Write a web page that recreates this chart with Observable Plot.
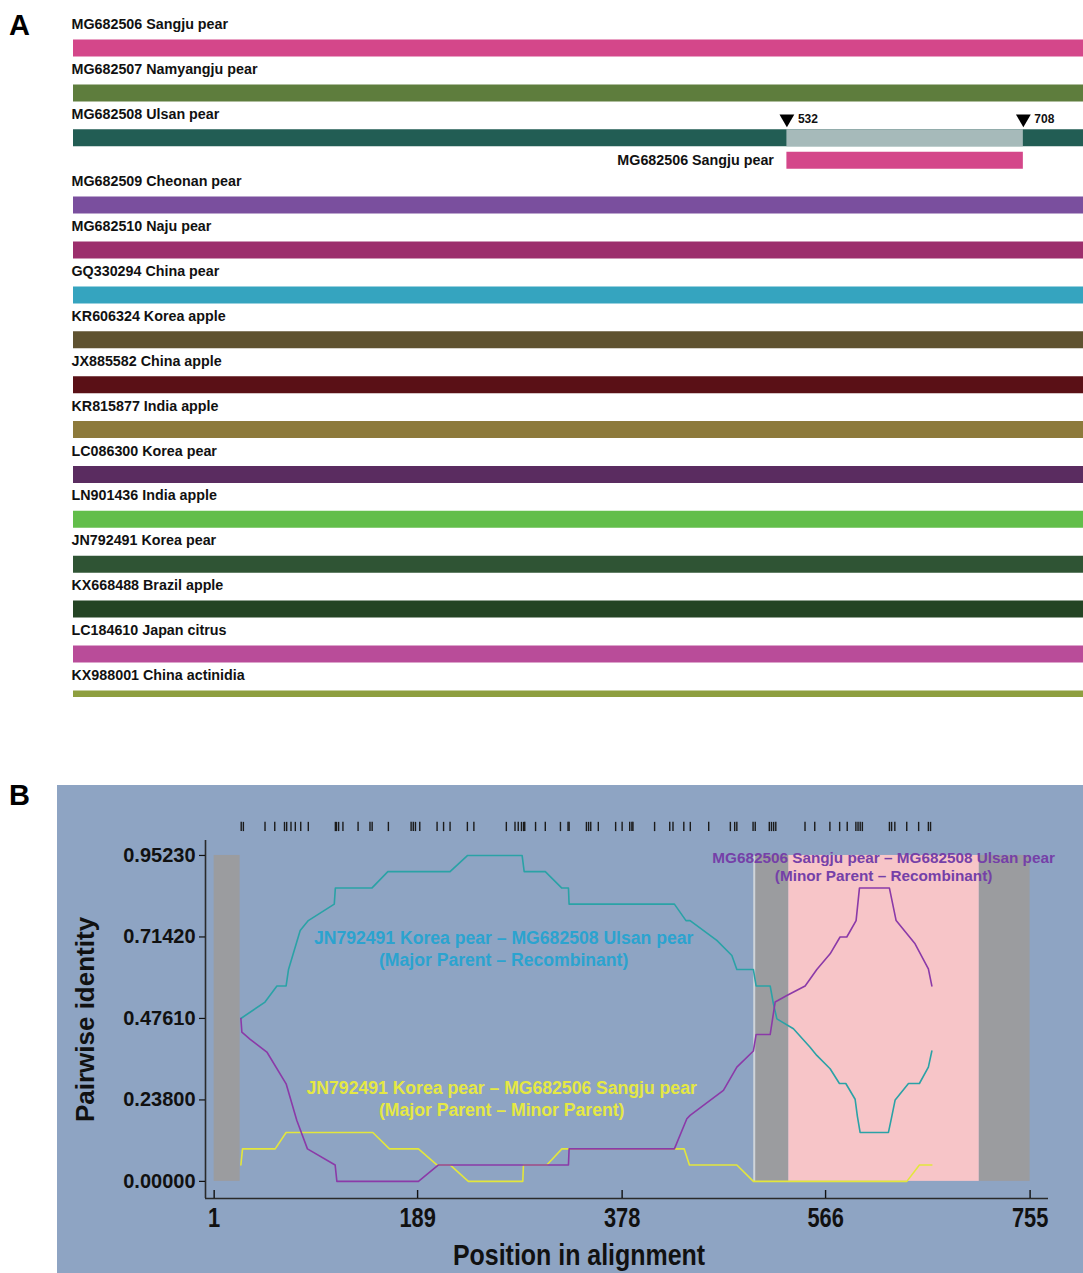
<!DOCTYPE html>
<html><head><meta charset="utf-8">
<script src="https://cdn.jsdelivr.net/npm/d3@7"></script>
<script src="https://cdn.jsdelivr.net/npm/@observablehq/plot@0.6"></script>
<style>
body{margin:0;background:#fff;}
#page{position:relative;width:1083px;height:1273px;overflow:hidden;font-family:"Liberation Sans",Arial,sans-serif;}
.letter{position:absolute;z-index:5;font-weight:bold;font-size:29px;color:#000;line-height:1;}
#a{position:absolute;left:0;top:0;}
#b{position:absolute;left:57px;top:785px;}
</style></head>
<body><div id="page">
<div id="a"></div><div id="b"></div>
<div class="letter" style="left:9px;top:11px">A</div>
<div class="letter" style="left:9px;top:781px">B</div>
</div>
<script>
// ---------- Panel A data ----------
const isolates = [
  "MG682506 Sangju pear","MG682507 Namyangju pear","MG682508 Ulsan pear","MG682509 Cheonan pear",
  "MG682510 Naju pear","GQ330294 China pear","KR606324 Korea apple","JX885582 China apple",
  "KR815877 India apple","LC086300 Korea pear","LN901436 India apple","JN792491 Korea pear",
  "KX668488 Brazil apple","LC184610 Japan citrus","KX988001 China actinidia"
];
const isolateColors = [
  "#d4478a","#5e7d3d","#225d54","#7a4f9e","#9c2e6c","#35a4bf","#5f5230","#5a1016",
  "#8d7a3b","#5a2c60","#62be4a","#2f5434","#244424","#b94c99","#8e9f3f"
];
const genomeSpan = [1, 755];
const recombinant = "MG682508 Ulsan pear";
const minorParent = "MG682506 Sangju pear";
const breakpoints = [532, 708];
const recombColor = "#a6baba";

// ---------- Panel B data ----------
const xTicks = [1, 189, 378, 566, 755];
const yTicks = [0, 0.2380, 0.4761, 0.7142, 0.9523];
const informativeSites = [26,28,48,57,66,68,72,76,81,88,113,114,116,120,134,145,147,162,183,185,187,191,
  207,213,219,235,241,271,279,282,285,287,288,298,307,321,328,329,345,347,349,356,372,378,385,387,388,
  408,422,425,435,441,458,478,482,484,499,501,514,516,518,520,547,556,570,579,586,594,596,598,600,
  625,627,630,641,652,661,663];
const unanalysedRegions = [[1,25],[501,532],[708,755]];
const recombRegion = [[532,708]];
// [position, pairwise identity]
const majorVsRecomb = [[25.7,0.476],[48,0.524],[59,0.571],[67.5,0.571],[69.7,0.619],[80.5,0.733],[88,0.762],
  [112,0.810],[113,0.857],[146.7,0.857],[161.5,0.905],[219,0.905],[235,0.952],[285.6,0.952],[287.5,0.905],
  [307,0.905],[322.3,0.857],[328.4,0.857],[329,0.810],[426.3,0.810],[437,0.762],[440.8,0.762],[465.5,0.704],
  [479.4,0.660],[484,0.619],[499.3,0.619],[501.8,0.571],[514.8,0.571],[517.8,0.519],[521,0.475],[536.3,0.446],
  [551.7,0.392],[557.9,0.368],[570.2,0.329],[578.8,0.286],[584.7,0.286],[593.3,0.240],[595.4,0.190],
  [597.9,0.143],[624.1,0.143],[627.2,0.190],[630.3,0.238],[642.6,0.286],[652.7,0.286],[661,0.334],[664.2,0.381]];
const minorVsRecomb = [[25.7,0.476],[26.6,0.436],[34.3,0.415],[49.7,0.378],[67.5,0.285],[77.4,0.178],[87.2,0.095],
  [112.8,0.048],[114.4,0],[189.8,0],[208.3,0.048],[328.4,0.048],[329,0.095],[426.3,0.095],[437.8,0.183],
  [440.8,0.193],[471.6,0.266],[484,0.334],[499.3,0.381],[501.8,0.429],[514.8,0.429],[519.4,0.524],[530.2,0.543],
  [547.1,0.571],[557.9,0.619],[570.2,0.665],[579.4,0.714],[585.6,0.714],[594.2,0.762],[597.3,0.857],[625,0.857],
  [631.2,0.762],[648.7,0.694],[661,0.621],[664.2,0.571]];
const majorVsMinor = [[25.7,0.048],[27.2,0.095],[57.4,0.095],[67.5,0.143],[147.6,0.143],[163,0.095],[189.8,0.095],
  [206.8,0.048],[219,0.048],[235.9,0],[286.2,0],[286.8,0.048],[308.4,0.048],[322.3,0.095],[426.9,0.095],
  [435.3,0.095],[440.2,0.048],[484,0.048],[499.3,0],[641.1,0],[652.7,0.048],[664.2,0.048]];
const notes = [
  {text:"JN792491 Korea pear – MG682508 Ulsan pear\n(Major Parent – Recombinant)", x:268.5, y:0.681, fill:"#2ba3cf", size:17.6, lh:1.25},
  {text:"JN792491 Korea pear – MG682506 Sangju pear\n(Major Parent – Minor Parent)", x:266.7, y:0.245, fill:"#e5e843", size:17.6, lh:1.25},
  {text:"MG682506 Sangju pear – MG682508 Ulsan pear\n(Minor Parent – Recombinant)", x:619.6, y:0.920, fill:"#7540a8", size:15.3, lh:1.18}
];
const xTitle = "Position in alignment";
const yTitle = "Pairwise identity";

// ---------- Panel A ----------
const ri = isolates.indexOf(recombinant);
const rows = isolates.map((name, i) => ({name, color: isolateColors[i], row: i + (i > ri ? 0.5 : 0),
  start: genomeSpan[0], end: genomeSpan[1]}));
const overlays = [
  {row: ri, start: breakpoints[0], end: breakpoints[1], color: recombColor},
  {row: ri + 0.5, start: breakpoints[0], end: breakpoints[1], color: isolateColors[isolates.indexOf(minorParent)]}
];
const font = '"Liberation Sans", Arial, sans-serif';
const plotA = Plot.plot({
  width: 1083, height: 697,
  x: {domain: genomeSpan, range: [73, 1086], axis: null},
  y: {domain: [0, 14.5], range: [47.5, 698.4], axis: null},
  color: {type: "identity"},
  style: {fontFamily: font, overflow: "hidden", background: "white", color: "#111"},
  marks: [
    Plot.ruleY(rows, {y: "row", x1: "start", x2: "end", stroke: "color", strokeWidth: 17}),
    Plot.ruleY(overlays, {y: "row", x1: "start", x2: "end", stroke: "color", strokeWidth: 17}),
    Plot.text(rows, {x: "start", y: "row", text: "name", dy: -23.5, dx: -2, textAnchor: "start",
      fontSize: 14.3, fontWeight: "bold", fill: "#111"}),
    Plot.text([minorParent], {x: breakpoints[0], y: ri + 0.5, text: d => d, dx: -13, textAnchor: "end",
      fontSize: 14.3, fontWeight: "bold", fill: "#111"}),
    Plot.dot(breakpoints, {x: d => d, y: ri, dy: -19, symbol: "triangle", r: 5.5, rotate: 180, fill: "#000", stroke: null}),
    Plot.text(breakpoints, {x: d => d, y: ri, dy: -18.5, dx: 11, text: d => String(d), textAnchor: "start",
      fontSize: 12, fontWeight: "bold", fill: "#111"})
  ]
});
document.getElementById("a").appendChild(plotA);

// ---------- Panel B ----------
const xExtent = [-7, 772], yExtent = [-0.05, 0.996];
const siteTrack = [1.022, 1.049];
const plotB = Plot.plot({
  width: 1026, height: 488,
  marginLeft: 148, marginRight: 35, marginTop: 55, marginBottom: 75,
  x: {domain: xExtent, axis: null},
  y: {domain: yExtent, axis: null},
  style: {fontFamily: font, background: "#8ea4c3", overflow: "visible", color: "#111"},
  marks: [
    Plot.rect(unanalysedRegions, {x1: d => d[0], x2: d => d[1], y1: 0, y2: yTicks[yTicks.length-1], fill: "#9b9c9f"}),
    Plot.rect(recombRegion, {x1: d => d[0], x2: d => d[1], y1: 0, y2: yTicks[yTicks.length-1], fill: "#f7c5c8"}),
    Plot.ruleX([unanalysedRegions[1][0]], {y1: 0, y2: yTicks[yTicks.length-1], stroke: "#cfd4da", strokeWidth: 2, dx: -1}),
    Plot.ruleX(informativeSites, {x: d => d, y1: siteTrack[0], y2: siteTrack[1], stroke: "#1b1b1b", strokeWidth: 1.4}),
    Plot.line(majorVsMinor, {x: d => d[0], y: d => d[1], stroke: "#e3e63c", strokeWidth: 1.6}),
    Plot.line(majorVsRecomb, {x: d => d[0], y: d => d[1], stroke: "#2aa2a6", strokeWidth: 1.6}),
    Plot.line(minorVsRecomb, {x: d => d[0], y: d => d[1], stroke: "#8b3aa8", strokeWidth: 1.6}),
    ...notes.map(n => Plot.text([n], {x: "x", y: "y", text: "text", fill: n.fill, fontSize: n.size,
      lineHeight: n.lh, fontWeight: "bold"})),
    Plot.ruleX([xExtent[0]], {stroke: "#2a2a2a", strokeWidth: 1.6}),
    Plot.ruleY([yExtent[0]], {stroke: "#2a2a2a", strokeWidth: 1.6}),
    Plot.axisY({ticks: yTicks, anchor: "left", tickSize: 6, tickPadding: 4, tickFormat: d3.format(".5f"),
      fontSize: 20, fontWeight: "bold", label: null, strokeWidth: 1.2}),
    Plot.axisX({ticks: xTicks, anchor: "bottom", tickSize: 8, dy: -8, tickPadding: 9, tickFormat: d => String(d),
      fontSize: 28, fontWeight: "bold", label: null, strokeWidth: 1.4}),
    Plot.text([yTitle], {text: d => d, frameAnchor: "left", textAnchor: "middle", lineAnchor: "middle",
      dx: -120, rotate: -90, fontSize: 26, fontWeight: "bold", fill: "#111"}),
    Plot.text([xTitle], {text: d => d, frameAnchor: "bottom", textAnchor: "middle", lineAnchor: "middle",
      dx: -48, dy: 57, fontSize: 29, fontWeight: "bold", fill: "#111"})
  ]
});
document.getElementById("b").appendChild(plotB);

// condensed look of the x-axis texts (narrow bold face in the reference)
function condense(el, k) {
  const w = el.getComputedTextLength();
  el.setAttribute("textLength", (w * k).toFixed(1));
  el.setAttribute("lengthAdjust", "spacingAndGlyphs");
}
plotB.querySelectorAll('g[aria-label="x-axis tick label"] text').forEach(t => condense(t, 0.78));
plotB.querySelectorAll("text").forEach(t => { if (t.textContent === xTitle) condense(t, 0.86); });
</script>
</body></html>
